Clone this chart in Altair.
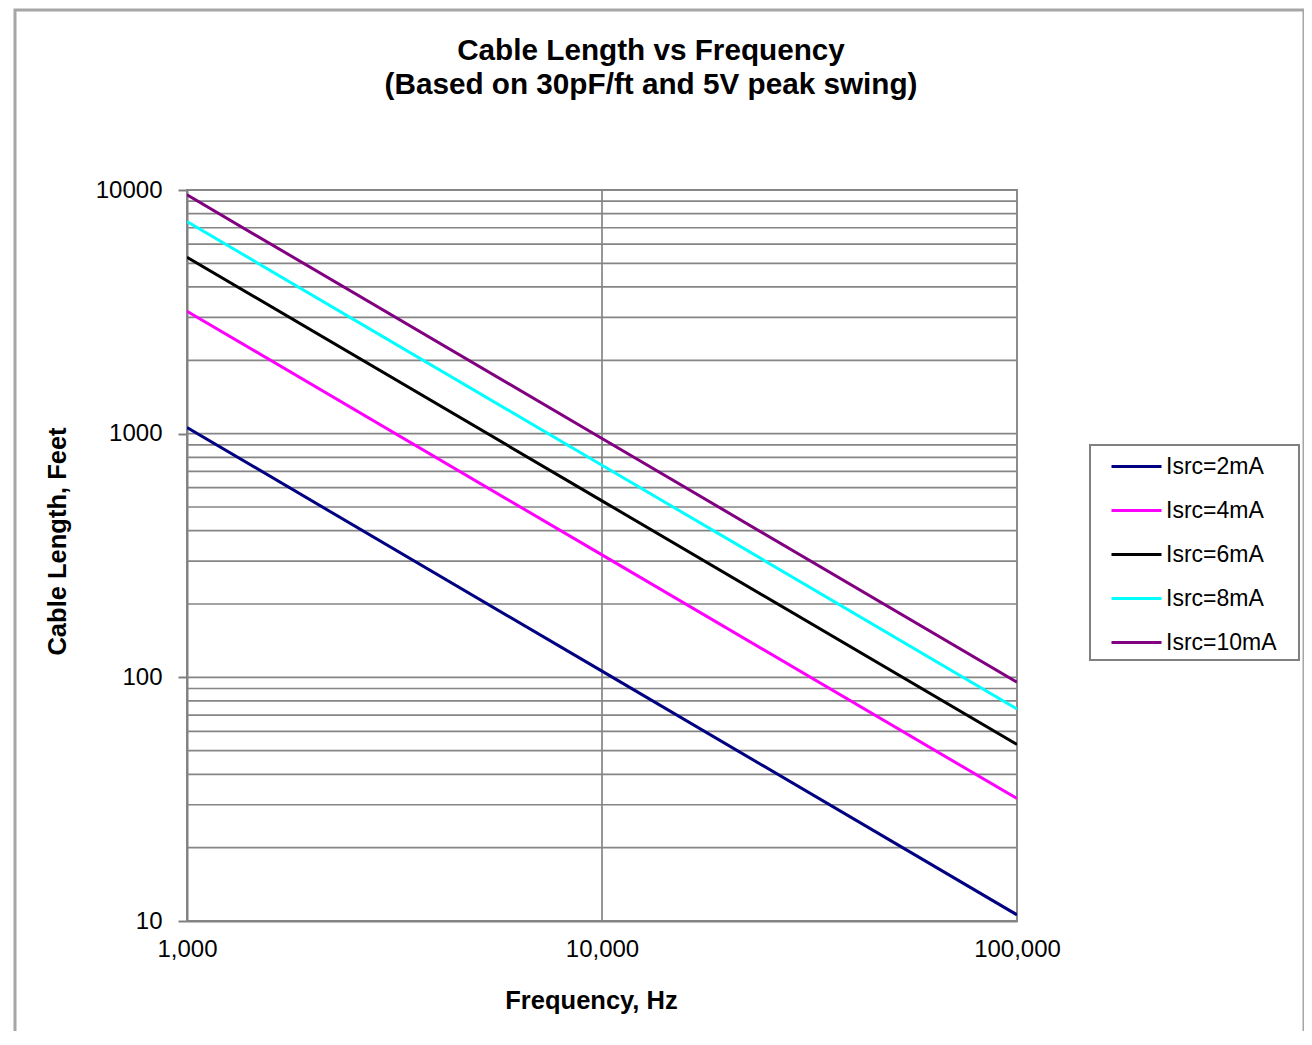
import altair as alt
import pandas as pd

freq = [1000, 10000, 100000]
series = ["Isrc=2mA", "Isrc=4mA", "Isrc=6mA", "Isrc=8mA", "Isrc=10mA"]
len_2ma = [1060, 106, 10.6]
len_4ma = [3180, 318, 31.8]
len_6ma = [5300, 530, 53]
len_8ma = [7420, 742, 74.2]
len_10ma = [9550, 955, 95.5]
colors = ["#000080", "#FF00FF", "#000000", "#00FFFF", "#800080"]

y_grid = [10, 20, 30, 40, 50, 60, 70, 80, 90,
          100, 200, 300, 400, 500, 600, 700, 800, 900,
          1000, 2000, 3000, 4000, 5000, 6000, 7000, 8000, 9000, 10000]
x_grid = [10000]
x_ticks = [1000, 10000, 100000]
y_ticks = [10, 100, 1000, 10000]

rows = []
for name, vals in zip(series, [len_2ma, len_4ma, len_6ma, len_8ma, len_10ma]):
    for f, v in zip(freq, vals):
        rows.append({"freq": f, "length": v, "series": name})
df = pd.DataFrame(rows)

FONT = "Liberation Sans"
xs = alt.Scale(type="log", domain=[1000, 100000], nice=False)
ys = alt.Scale(type="log", domain=[10, 10000], nice=False)
GRID = "#858585"

x_axis = alt.Axis(title="Frequency, Hz", values=x_ticks, format=",",
                  grid=False, ticks=False, labelPadding=16, labelFlush=False,
                  titleX=404, titleY=79, titleBaseline="middle")
y_axis = alt.Axis(title="Cable Length, Feet", values=y_ticks, format="d",
                  grid=False, ticks=True, tickSize=9, labelPadding=16,
                  labelFlush=False,
                  titleX=-130, titleY=351, titleBaseline="middle",
                  titleAlign="center")

hgrid = alt.Chart(pd.DataFrame({"v": y_grid})).mark_rule(
    color=GRID, strokeWidth=1.7
).encode(y=alt.Y("v:Q", scale=ys, axis=y_axis))

vgrid = alt.Chart(pd.DataFrame({"v": x_grid})).mark_rule(
    color=GRID, strokeWidth=1.7
).encode(x=alt.X("v:Q", scale=xs, axis=x_axis))

lines = alt.Chart(df).mark_line(strokeWidth=3, clip=True).encode(
    x=alt.X("freq:Q", scale=xs, axis=x_axis),
    y=alt.Y("length:Q", scale=ys, axis=y_axis),
    color=alt.Color("series:N", scale=alt.Scale(domain=series, range=colors),
                    legend=alt.Legend(title=None, orient="none", legendX=903, legendY=255,
                                      symbolType="stroke", symbolSize=2500,
                                      symbolStrokeWidth=3, labelFontSize=23,
                                      labelFont=FONT, labelOffset=3,
                                      padding=10, clipHeight=23, rowPadding=20,
                                      symbolOffset=10)),
    order=alt.Order("freq:Q"),
)

frame = alt.Chart(pd.DataFrame({"a": [0]})).mark_rect(
    fill=None, stroke="#a6a6a6", strokeWidth=3
).encode(x=alt.value(-172), x2=alt.value(1117), y=alt.value(-180), y2=alt.value(900))

legend_box = alt.Chart(pd.DataFrame({"a": [0]})).mark_rect(
    fill=None, stroke="#808080", strokeWidth=2
).encode(x=alt.value(903), x2=alt.value(1112), y=alt.value(255), y2=alt.value(470))

chart = alt.layer(hgrid, vgrid, lines, frame, legend_box).properties(
    width=830, height=731,
    title=alt.TitleParams(
        text=["Cable Length vs Frequency", "(Based on 30pF/ft and 5V peak swing)"],
        font=FONT, fontSize=29.7, fontWeight="bold", lineHeight=34,
        anchor="middle", dx=49, offset=-92, color="#000000"),
    autosize=alt.AutoSizeParams(type="none"),
    padding={"left": 179, "top": 182, "right": 287, "bottom": 110},
).configure_view(
    stroke="#8c8c8c", strokeWidth=2
).configure_axis(
    labelFont=FONT, labelFontSize=24, labelColor="#000000",
    titleFont=FONT, titleFontSize=25.5, titleFontWeight="bold", titleColor="#000000",
    domainColor="#808080", domainWidth=2, tickColor="#808080", tickWidth=2,
)

chart.save("out.html", embed_options={"renderer": "svg", "actions": False})
